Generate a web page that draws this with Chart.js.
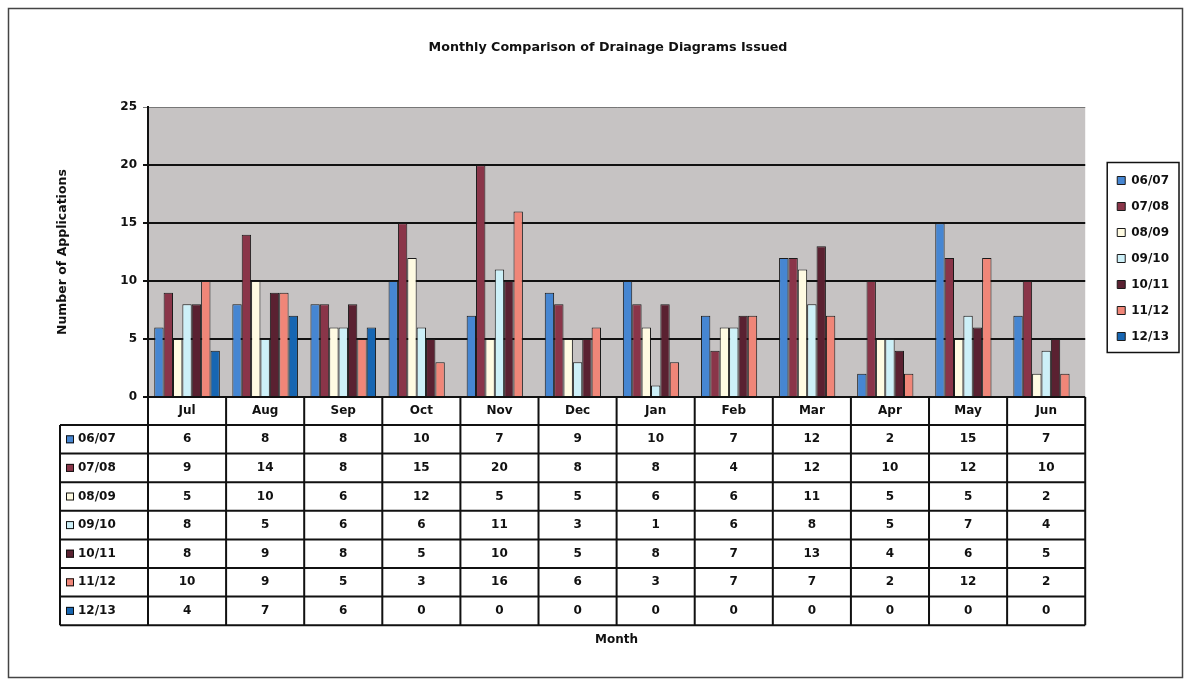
<!DOCTYPE html>
<html>
<head>
<meta charset="utf-8">
<script src="https://cdn.jsdelivr.net/npm/chart.js@4/dist/chart.umd.min.js"></script>
<style>
  html, body { margin: 0; padding: 0; background: #fff; }
  #wrap { width: 1191px; height: 685px; }
</style>
</head>
<body>
<div id="wrap"><canvas id="chart" width="1191" height="685"></canvas></div>
<script>
// values
const months = ['Jul', 'Aug', 'Sep', 'Oct', 'Nov', 'Dec', 'Jan', 'Feb', 'Mar', 'Apr', 'May', 'Jun'];
const seriesLabels = ['06/07', '07/08', '08/09', '09/10', '10/11', '11/12', '12/13'];
const s0607 = [6, 8, 8, 10, 7, 9, 10, 7, 12, 2, 15, 7];
const s0708 = [9, 14, 8, 15, 20, 8, 8, 4, 12, 10, 12, 10];
const s0809 = [5, 10, 6, 12, 5, 5, 6, 6, 11, 5, 5, 2];
const s0910 = [8, 5, 6, 6, 11, 3, 1, 6, 8, 5, 7, 4];
const s1011 = [8, 9, 8, 5, 10, 5, 8, 7, 13, 4, 6, 5];
const s1112 = [10, 9, 5, 3, 16, 6, 3, 7, 7, 2, 12, 2];
const s1213 = [4, 7, 6, 0, 0, 0, 0, 0, 0, 0, 0, 0];
const yTicks = [0, 5, 10, 15, 20, 25];

const seriesValues = [s0607, s0708, s0809, s0910, s1011, s1112, s1213];
const seriesColors = ['#4686d2', '#8a3549', '#fffbe2', '#cdf0f8', '#5a2131', '#f08678', '#1766b2'];

const FONT = '"DejaVu Sans", Verdana, sans-serif';

const datasets = seriesLabels.map((label, i) => ({
    label: label,
    data: seriesValues[i],
    backgroundColor: seriesColors[i],
    borderColor: '#1a1a1a',
    borderWidth: 1,
    categoryPercentage: 0.84,
    barPercentage: 1
}));

// frame, grey plot background, data table and legend box
const tablePlugin = {
    id: 'dataTable',
    afterLayout(chart) {
        // nudge the legend over to where Excel put it
        const lg = chart.legend;
        if (!lg) return;
        lg.left += 18; lg.right += 18;
        lg.top -= 84; lg.bottom -= 84;
    },
    beforeDraw(chart) {
        const ctx = chart.ctx;
        const a = chart.chartArea;
        ctx.save();
        ctx.fillStyle = '#fff';
        ctx.fillRect(0, 0, chart.width, chart.height);
        ctx.strokeStyle = '#444';
        ctx.lineWidth = 1.5;
        ctx.strokeRect(8.5, 8.5, chart.width - 17, chart.height - 16);
        ctx.fillStyle = '#c6c3c3';
        ctx.fillRect(a.left, a.top, a.right - a.left, a.bottom - a.top);
        ctx.restore();
    },
    afterDraw(chart) {
        const ctx = chart.ctx;
        const a = chart.chartArea;
        const x = chart.scales.x;
        const half = (x.getPixelForValue(1) - x.getPixelForValue(0)) / 2;
        const top = a.bottom;
        const headH = 28;
        const rowH = 28.6;
        const labelLeft = 60;
        const n = chart.data.datasets.length;
        const bottom = top + headH + rowH * n;

        ctx.save();
        ctx.strokeStyle = '#111';
        ctx.lineWidth = 2;
        ctx.fillStyle = '#111';
        ctx.textAlign = 'center';
        ctx.textBaseline = 'middle';
        ctx.font = 'bold 12px ' + FONT;

        // header row with month names
        ctx.beginPath();
        ctx.moveTo(a.left, top + headH);
        ctx.lineTo(a.right, top + headH);
        ctx.moveTo(a.right, top);
        ctx.lineTo(a.right, bottom);
        chart.data.labels.forEach((m, i) => {
            const cx = x.getPixelForValue(i);
            ctx.moveTo(cx - half, top);
            ctx.lineTo(cx - half, bottom);
            ctx.fillText(m, cx, top + headH / 2);
        });
        // rows
        ctx.moveTo(labelLeft, top + headH);
        ctx.lineTo(labelLeft, bottom);
        for (let r = 0; r <= n; r++) {
            const y = top + headH + rowH * r;
            ctx.moveTo(labelLeft, y);
            ctx.lineTo(a.right, y);
        }
        ctx.stroke();

        chart.data.datasets.forEach((ds, r) => {
            const cy = top + headH + rowH * r + rowH / 2;
            ds.data.forEach((v, i) => {
                ctx.fillText(String(v), x.getPixelForValue(i), cy);
            });
            ctx.fillStyle = ds.backgroundColor;
            ctx.fillRect(labelLeft + 6, cy - 4, 8, 8);
            ctx.lineWidth = 1;
            ctx.strokeRect(labelLeft + 6.5, cy - 3.5, 7, 7);
            ctx.fillStyle = '#111';
            ctx.textAlign = 'left';
            ctx.fillText(ds.label, labelLeft + 18, cy);
            ctx.textAlign = 'center';
        });

        // border round the legend
        const lg = chart.legend;
        if (lg && lg.legendHitBoxes && lg.legendHitBoxes.length) {
            const boxes = lg.legendHitBoxes;
            const l = Math.min(...boxes.map(b => b.left)) - 10;
            const t = boxes[0].top - 12;
            const last = boxes[boxes.length - 1];
            const rgt = Math.max(...boxes.map(b => b.left + b.width)) + 10;
            const btm = last.top + last.height + 10;
            ctx.lineWidth = 1.5;
            ctx.strokeStyle = '#111';
            ctx.strokeRect(l, t, rgt - l, btm - t);
        }
        ctx.restore();
    }
};

new Chart(document.getElementById('chart'), {
    type: 'bar',
    data: { labels: months, datasets: datasets },
    plugins: [tablePlugin],
    options: {
        responsive: false,
        animation: false,
        layout: { padding: { left: 55, right: 30, top: 0, bottom: 0 } },
        plugins: {
            title: {
                display: true,
                text: 'Monthly Comparison of Drainage Diagrams Issued',
                color: '#111',
                font: { family: FONT, size: 12.7, weight: 'bold' },
                padding: { top: 40, bottom: 52 }
            },
            legend: {
                position: 'right',
                labels: {
                    color: '#111',
                    font: { family: FONT, size: 12, weight: 'bold' },
                    boxWidth: 8,
                    boxHeight: 8,
                    padding: 14
                }
            },
            tooltip: { enabled: false }
        },
        scales: {
            x: {
                grid: { display: false },
                border: { display: false },
                ticks: { display: false },
                title: {
                    display: true,
                    text: 'Month',
                    color: '#111',
                    font: { family: FONT, size: 12, weight: 'bold' },
                    padding: { top: 0, bottom: 38 }
                },
                afterFit(scale) { scale.height = 288; }
            },
            y: {
                min: yTicks[0],
                max: yTicks[yTicks.length - 1],
                afterBuildTicks(scale) { scale.ticks = yTicks.map(v => ({ value: v })); },
                grid: {
                    color: ctx => ctx.tick && ctx.tick.value === 25 ? '#777' : '#111',
                    lineWidth: ctx => ctx.tick && ctx.tick.value === 25 ? 1 : 2,
                    tickLength: 5
                },
                border: { display: true, color: '#111', width: 2 },
                ticks: {
                    color: '#111',
                    padding: 6,
                    font: { family: FONT, size: 12, weight: 'bold' }
                },
                title: {
                    display: true,
                    text: 'Number of Applications',
                    color: '#111',
                    font: { family: FONT, size: 12.5, weight: 'bold' },
                    padding: { top: 0, bottom: 0 }
                },
                afterFit(scale) { scale.width = 148 - 55; }
            }
        }
    }
});
</script>
</body>
</html>
